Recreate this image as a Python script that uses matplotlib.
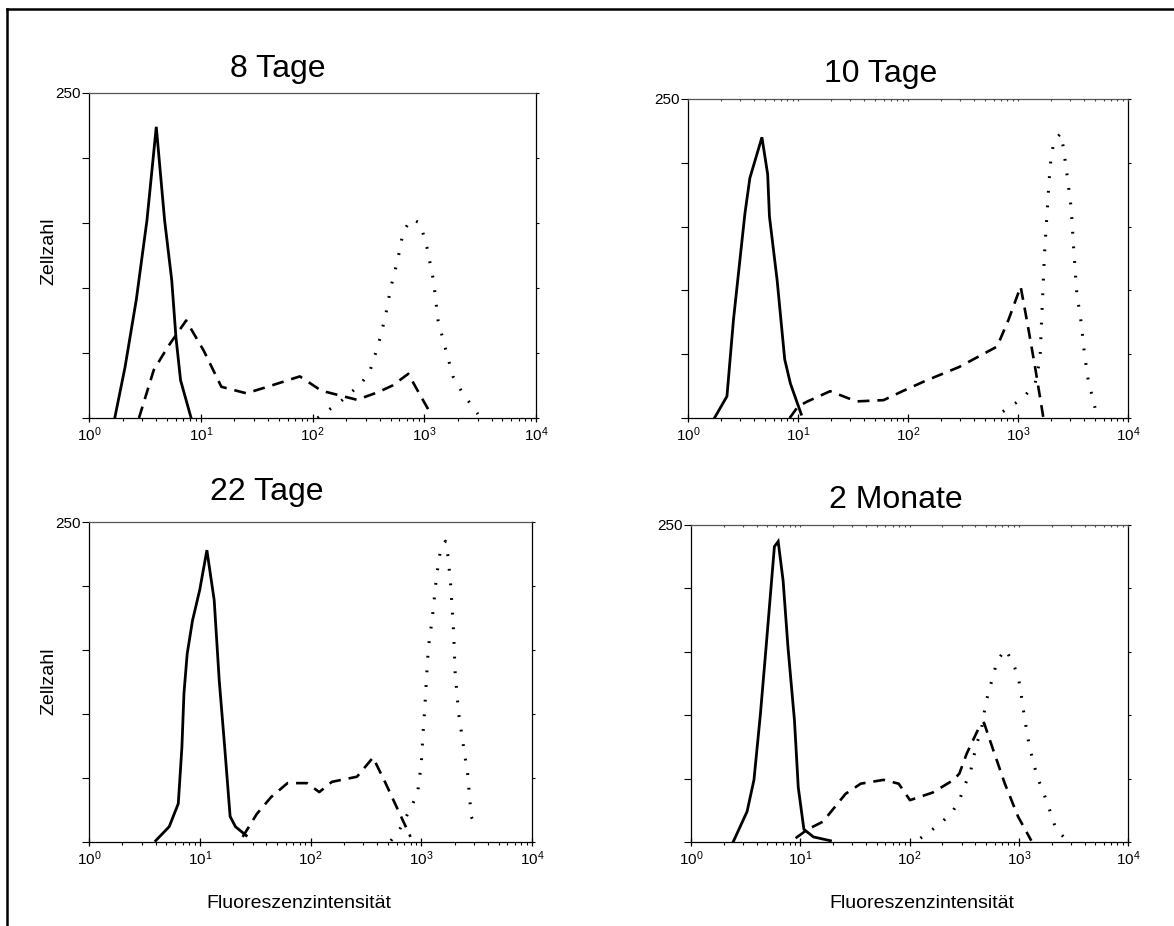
import matplotlib
matplotlib.use("Agg")
import matplotlib.pyplot as plt
from matplotlib.lines import Line2D
from matplotlib.ticker import LogLocator, NullFormatter, FixedLocator, FixedFormatter

plt.rcParams['font.family'] = ['Liberation Sans', 'DejaVu Sans']
plt.rcParams['mathtext.fontset'] = 'custom'
plt.rcParams['mathtext.rm'] = 'Liberation Sans'
plt.rcParams['mathtext.it'] = 'Liberation Sans:italic'
plt.rcParams['mathtext.default'] = 'regular'

# ---- data (fluorescence intensity vs. cell count) ----
titles = ["8 Tage", "10 Tage", "22 Tage", "2 Monate"]

x8_solid = [1.7, 2.1, 2.65, 3.3, 4.0, 4.75, 5.5, 6.0, 6.6, 8.2]
y8_solid = [0, 39, 91, 152, 224, 152, 106, 62, 29, 0]
x8_dash = [2.8, 3.8, 5.1, 7.4, 10.6, 15.3, 25.6, 43, 77, 120, 250, 390, 520, 720, 900, 1165]
y8_dash = [0, 37, 55, 75, 52, 24, 19, 25, 32, 21, 14, 20, 25, 34, 19, 2]
x8_dot = [111, 144, 186, 269, 323, 387, 449, 501, 580, 647, 761, 920, 1066, 1208, 1330, 1563, 1808, 2173, 3020]
y8_dot = [0, 7, 14, 26, 35, 56, 78, 100, 122, 143, 153, 150, 130, 106, 75, 52, 32, 20, 3]

x10_solid = [1.74, 2.26, 2.59, 3.29, 3.65, 4.7, 5.3, 5.5, 6.46, 7.57, 8.53, 10.7]
y10_solid = [0, 17, 77, 160, 188, 220, 191, 158, 108, 46, 27, 3]
x10_dash = [8.4, 10, 12.2, 19.6, 34, 60, 89, 143, 292, 646, 820, 1057, 1219, 1429, 1702]
y10_dash = [0, 9, 13, 21, 13, 14, 21, 29, 40, 56, 77, 103, 74, 40, 0]
x10_dot = [728, 961, 1172, 1430, 1585, 1649, 1742, 1844, 1918, 1996, 2127, 2266, 2453,
           2595, 2808, 3040, 3212, 3422, 3764, 4010, 4342, 5014]
y10_dot = [5, 12, 18, 27, 46, 82, 129, 163, 186, 204, 217, 220, 223,
           211, 189, 165, 132, 98, 74, 51, 30, 8]

x22_solid = [4.0, 5.3, 6.4, 6.9, 7.2, 7.7, 8.6, 10.0, 11.6, 13.5, 15.0, 16.8, 18.8, 21.0, 26.3]
y22_solid = [1, 12, 30, 74, 116, 147, 173, 197, 228, 189, 126, 74, 20, 12, 5]
x22_dash = [24.4, 32.8, 44, 62, 93, 120, 156, 263, 367, 476, 640, 800]
y22_dash = [4, 22, 35, 46, 46, 39, 47, 51, 66, 46, 22, 4]
x22_dot = [532, 640, 830, 929, 1000, 1038, 1077, 1117, 1160, 1250, 1297, 1376, 1503,
           1656, 1745, 1839, 1950, 2024, 2180, 2385, 2625, 2828, 3162]
y22_dot = [1, 10, 29, 39, 61, 85, 105, 129, 152, 173, 186, 208, 230,
           235, 223, 202, 168, 132, 100, 77, 53, 20, 9]

x2m_solid = [2.43, 3.26, 3.77, 4.32, 4.86, 5.8, 6.28, 6.97, 7.73, 8.85, 9.59, 10.8, 13.2, 18.9]
y2m_solid = [0, 24, 49, 101, 153, 233, 237, 206, 153, 96, 43, 10, 4, 1]
x2m_dash = [9.06, 11.7, 16.1, 26, 35.8, 57.8, 79.6, 101, 163, 254, 286, 335, 426, 481, 587, 746, 986, 1303]
y2m_dash = [3, 10, 16, 38, 46, 49, 46, 33, 39, 49, 54, 70, 89, 94, 72, 46, 20, 1]
x2m_dot = [126, 163, 200, 248, 286, 322, 363, 410, 454, 500, 541, 587, 635, 757,
           875, 986, 1042, 1129, 1253, 1469, 1824, 2193, 2716]
y2m_dot = [3, 10, 16, 24, 33, 45, 56, 77, 88, 110, 121, 132, 143, 152,
           142, 131, 119, 98, 75, 52, 31, 10, 2]

y_ticks = [0, 50, 100, 150, 200, 250]
y_ticklabels = ["", "", "", "", "", "250"]
x_ticks = [1, 10, 100, 1000, 10000]
x_ticklabels = [r"$10^{0}$", r"$10^{1}$", r"$10^{2}$", r"$10^{3}$", r"$10^{4}$"]

W, H = 1174, 926
fig = plt.figure(figsize=(W / 100, H / 100), dpi=100)

# axes boxes in pixels: left, right, top, bottom
boxes = [(89, 536, 93, 418), (688, 1128, 99, 418), (89, 532, 522, 842), (691, 1128, 525, 842)]
# title centre x, baseline y
title_pos = [(278, 77), (881, 82), (267, 500), (896, 508)]

series = [
    (x8_solid, y8_solid, x8_dash, y8_dash, x8_dot, y8_dot),
    (x10_solid, y10_solid, x10_dash, y10_dash, x10_dot, y10_dot),
    (x22_solid, y22_solid, x22_dash, y22_dash, x22_dot, y22_dot),
    (x2m_solid, y2m_solid, x2m_dash, y2m_dash, x2m_dot, y2m_dot),
]

for i, (box, tp, s) in enumerate(zip(boxes, title_pos, series)):
    l, r, t, b = box
    ax = fig.add_axes([l / W, 1 - b / H, (r - l) / W, (b - t) / H])
    xs, ys, xd, yd, xp, yp = s
    ax.plot(xs, ys, color='black', lw=2.0, solid_joinstyle='miter')
    ax.plot(xd, yd, color='black', lw=1.9, linestyle=(0, (4.5, 3.0)))
    ax.plot(xp, yp, color='black', lw=2.2, linestyle=(0, (0.6, 4.2)))

    ax.set_xscale('log')
    ax.set_xlim(1, 1e4)
    ax.set_ylim(0, 250)
    ax.xaxis.set_major_locator(FixedLocator(x_ticks))
    ax.xaxis.set_major_formatter(FixedFormatter(x_ticklabels))
    ax.xaxis.set_minor_locator(LogLocator(base=10, subs=range(2, 10), numticks=20))
    ax.xaxis.set_minor_formatter(NullFormatter())
    ax.set_yticks(y_ticks)
    ax.set_yticklabels(y_ticklabels)

    for sp in ax.spines.values():
        sp.set_linewidth(0.9)
        sp.set_color('black')
    ax.spines['top'].set_color('#555555')

    ax.tick_params(axis='x', which='major', direction='inout', length=6, width=0.9,
                   labelsize=11, pad=2, top=False)
    ax.tick_params(axis='x', which='minor', direction='out', length=2.5, width=0.8, top=False)
    ax.tick_params(axis='y', which='major', direction='out', length=4.8, width=0.8,
                   labelsize=11, pad=1, right=False)

    # short ticks on the right frame
    axr = ax.twinx()
    axr.set_ylim(0, 250)
    axr.set_yticks(y_ticks)
    axr.set_yticklabels([])
    axr.tick_params(axis='y', direction='out', length=2, width=0.8)
    for sp in axr.spines.values():
        sp.set_visible(False)

    # faint ticks along the top frame
    if i in (1, 3):
        axt = ax.twiny()
        axt.set_xscale('log')
        axt.set_xlim(1, 1e4)
        axt.xaxis.set_major_locator(FixedLocator(x_ticks))
        axt.xaxis.set_minor_locator(LogLocator(base=10, subs=range(2, 10), numticks=20))
        axt.xaxis.set_major_formatter(NullFormatter())
        axt.xaxis.set_minor_formatter(NullFormatter())
        axt.tick_params(axis='x', which='both', direction='in', length=1.5, width=0.8,
                        color='#444444')
        for sp in axt.spines.values():
            sp.set_visible(False)

    fig.text(tp[0] / W, 1 - tp[1] / H, titles[i], ha='center', va='baseline', fontsize=23)

# axis labels
for yc in (251, 681):
    fig.text(49 / W, 1 - yc / H, "Zellzahl", rotation=90, ha='center', va='center', fontsize=14)
for xc in (299, 922):
    fig.text(xc / W, 1 - 904 / H, "Fluoreszenzintensität", ha='center', va='center', fontsize=14)

# outer frame (top and left edge)
fig.add_artist(Line2D([7 / W, 1.0], [1 - 9 / H, 1 - 9 / H], color='black', lw=1.8))
fig.add_artist(Line2D([7 / W, 7 / W], [1 - 9 / H, 0.0], color='black', lw=1.8))

fig.savefig('out.png', dpi=100)
